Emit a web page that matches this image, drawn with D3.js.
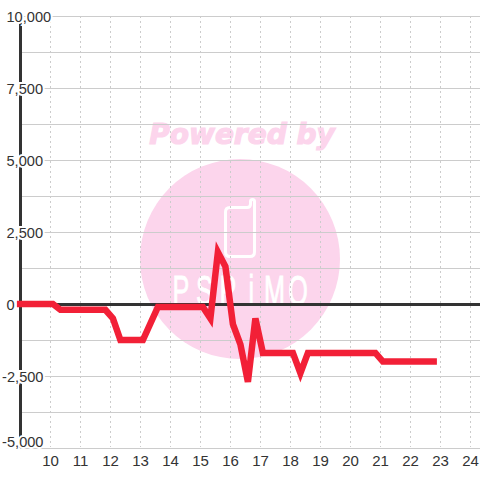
<!DOCTYPE html>
<html>
<head>
<meta charset="utf-8">
<script src="https://cdn.jsdelivr.net/npm/d3@7/dist/d3.min.js"></script>
<style>
  html, body { margin: 0; padding: 0; background: #fff; }
  svg { display: block; }
  text { font-family: "Liberation Sans", sans-serif; }
</style>
</head>
<body>
<div id="chart"></div>
<script>
const hours = [8.88, 10.08, 10.33, 11.83, 12.08, 12.33, 13.08, 13.58, 15.08, 15.33, 15.58, 15.83, 16.08, 16.33, 16.58, 16.83, 17.08, 18.08, 18.33, 18.58, 20.83, 21.08, 22.88]
const values = [0, 0, -200, -200, -500, -1250, -1250, -100, -100, -500, 1800, 1300, -700, -1400, -2700, -500, -1700, -1700, -2400, -1700, -1700, -2000, -2000]
const xTicks = [10, 11, 12, 13, 14, 15, 16, 17, 18, 19, 20, 21, 22, 23, 24]
const yLabels = [10000, 7500, 5000, 2500, 0, -2500, -5000]
const yGrid = [10000, 8750, 7500, 6250, 5000, 3750, 2500, 1250, -1250, -2500, -3750, -5000]
const logoLetters = ["P", "S", "P", "i", "M", "O"]

const width = 480
const height = 480

const x = d3.scaleLinear().domain([9, 24]).range([20.5, 470.5])
const y = d3.scaleLinear().domain([-5000, 10000]).range([448, 16])

const svg = d3.select("#chart")
  .append("svg")
  .attr("width", width)
  .attr("height", height)
  .attr("viewBox", [0, 0, width, height])

// Watermark
const mark = svg.append("g").attr("class", "watermark")

mark.append("circle")
  .attr("cx", 240)
  .attr("cy", 259)
  .attr("r", 100)
  .attr("fill", "#fcd5ec")

mark.append("text")
  .attr("x", 242)
  .attr("y", 144)
  .attr("text-anchor", "middle")
  .attr("font-size", 28)
  .attr("font-weight", 700)
  .attr("font-style", "italic")
  .attr("fill", "#fcd5ec")
  .attr("stroke", "#fcd5ec")
  .attr("stroke-width", 1.2)
  .style("font-family", '"DejaVu Sans", sans-serif')
  .text("Powered by")

// Phone outline
mark.append("path")
  .attr("d", "M254.5 201.5 V252 Q254.5 256.5 250 256.5 H230 Q225.5 256.5 225.5 252 V212 Q225.5 207.5 230 207.5 H247 Q250.5 207.5 250.5 204 V201.5 A2 2 0 0 1 254.5 201.5 Z")
  .attr("fill", "none")
  .attr("stroke", "#fff")
  .attr("stroke-width", 3)

mark.append("g")
  .selectAll("text")
  .data(logoLetters)
  .join("text")
  .attr("x", (d, i) => 181 + i * 23.4)
  .attr("y", 305)
  .attr("text-anchor", "middle")
  .attr("font-size", 42)
  .attr("fill", "#fff")
  .attr("stroke", "#fff")
  .attr("stroke-width", 0.8)
  .attr("transform", (d, i) => `translate(${(181 + i * 23.4) * 0.4},0) scale(0.6,1)`)
  .text(d => d)

// Grid
svg.append("g")
  .selectAll("line")
  .data(yGrid)
  .join("line")
  .attr("x1", 20)
  .attr("x2", width)
  .attr("y1", d => y(d) + 0.5)
  .attr("y2", d => y(d) + 0.5)
  .attr("stroke", "#cccccc")
  .attr("stroke-width", 1)

svg.append("g")
  .selectAll("line")
  .data(xTicks)
  .join("line")
  .attr("x1", d => x(d))
  .attr("x2", d => x(d))
  .attr("y1", 16)
  .attr("y2", 447)
  .attr("stroke", "#cccccc")
  .attr("stroke-width", 1)
  .attr("stroke-dasharray", "2,3")

// Axes
svg.append("line")
  .attr("x1", 20)
  .attr("x2", width)
  .attr("y1", y(0) + 0.5)
  .attr("y2", y(0) + 0.5)
  .attr("stroke", "#333")
  .attr("stroke-width", 3)

svg.append("line")
  .attr("x1", 20.5)
  .attr("x2", 20.5)
  .attr("y1", 16)
  .attr("y2", 448)
  .attr("stroke", "#333")
  .attr("stroke-width", 3)

// Labels sit over the axis with a white halo, the series goes over them
svg.append("g")
  .selectAll("text")
  .data(yLabels)
  .join("text")
  .attr("x", d => d < 0 ? 43.5 : 6.5)
  .attr("y", d => d === -5000 ? 447 : y(d) + 5.5)
  .attr("text-anchor", d => d < 0 ? "end" : "start")
  .attr("font-size", 14.6)
  .attr("fill", "#333")
  .attr("stroke", "#fff")
  .attr("stroke-width", 4)
  .attr("paint-order", "stroke")
  .text(d => d3.format(",")(d).replace("−", "-"))

svg.append("g")
  .selectAll("text")
  .data(xTicks)
  .join("text")
  .attr("x", d => x(d))
  .attr("y", 466)
  .attr("text-anchor", "middle")
  .attr("font-size", 15)
  .attr("fill", "#333")
  .text(d => d)

// Series
const line = d3.line().x((d, i) => x(hours[i])).y(d => y(d))

svg.append("path")
  .datum(values)
  .attr("d", line)
  .attr("fill", "none")
  .attr("stroke", "#f22037")
  .attr("stroke-width", 6.5)
  .attr("stroke-linejoin", "miter")
</script>
</body>
</html>
